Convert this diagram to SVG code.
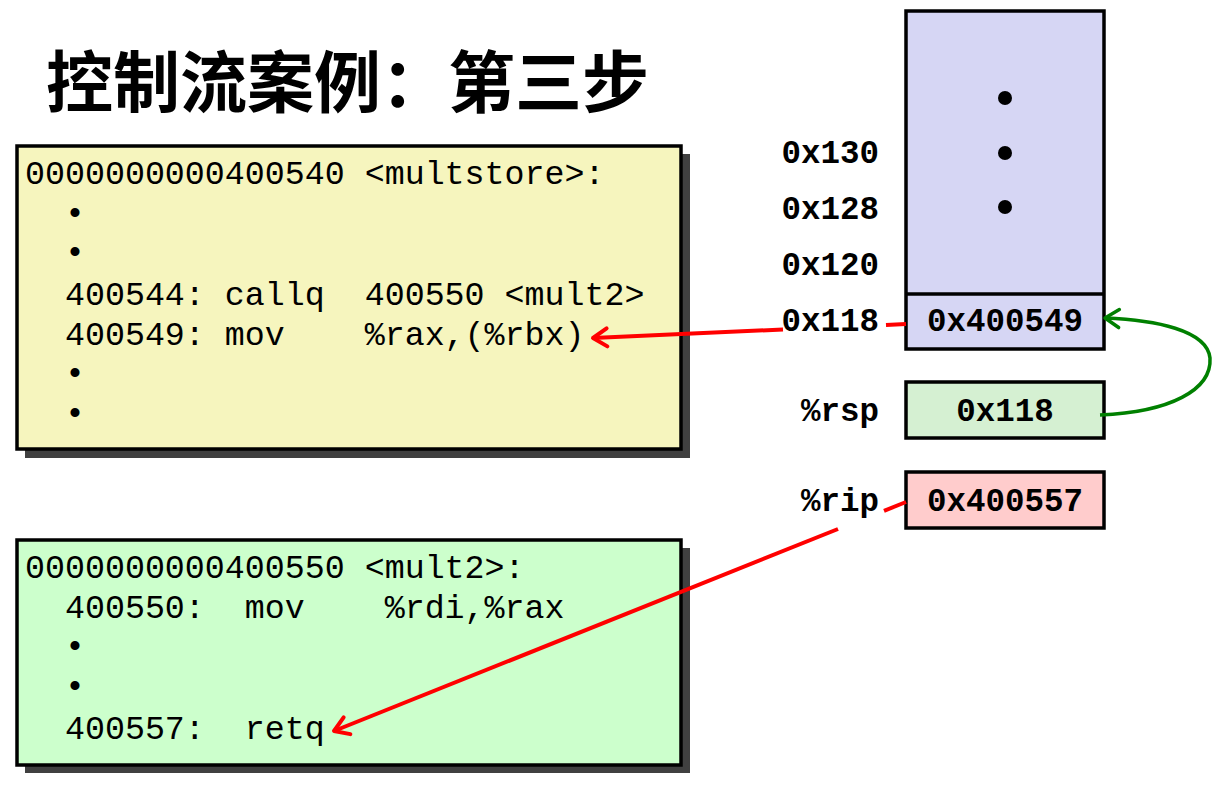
<svg xmlns="http://www.w3.org/2000/svg" width="1228" height="788" viewBox="0 0 1228 788">
<style>
.code{font-family:"Liberation Mono","Courier New",monospace;font-size:33.3px;fill:#000;white-space:pre}
.lbl{font-family:"Liberation Mono","Courier New",monospace;font-size:32.5px;font-weight:bold;fill:#000;white-space:pre}
.box{stroke:#000;stroke-width:3.5}
.red{stroke:#ff0000;stroke-width:4;fill:none}
.grn{stroke:#008000;stroke-width:3.5;fill:none}
</style>
<defs>
<marker id="ar" markerUnits="userSpaceOnUse" markerWidth="30" markerHeight="24" refX="27" refY="12" orient="auto" viewBox="0 0 30 24">
<path d="M13,3 L27,12 L13,21" fill="none" stroke="#ff0000" stroke-width="4" stroke-linecap="round" stroke-linejoin="round"/>
</marker>
<marker id="ag" markerUnits="userSpaceOnUse" markerWidth="30" markerHeight="24" refX="27" refY="12" orient="auto" viewBox="0 0 30 24">
<path d="M13,3 L27,12 L13,21" fill="none" stroke="#008000" stroke-width="3.5" stroke-linecap="round" stroke-linejoin="round"/>
</marker>
</defs>
<rect width="1228" height="788" fill="#fff"/>
<g id="title">
<text x="46" y="107" font-family="'Noto Sans CJK SC',sans-serif" font-weight="700" font-size="67">控制流案例：第三步</text>
</g>
<g id="multstore">
<rect x="25" y="154" width="665" height="304" fill="#404040"/>
<rect x="17" y="146" width="664" height="303" fill="#f6f5be" class="box" stroke-width="2.5"/>
<text class="code" x="25" y="184">0000000000400540 &lt;multstore&gt;:</text>
<text class="code" x="25" y="224">  •</text>
<text class="code" x="25" y="263">  •</text>
<text class="code" x="25" y="305">  400544: callq  400550 &lt;mult2&gt;</text>
<text class="code" x="25" y="345">  400549: mov    %rax,(%rbx)</text>
<text class="code" x="25" y="384">  •</text>
<text class="code" x="25" y="424">  •</text>
</g>
<g id="mult2">
<rect x="25" y="548" width="665" height="225" fill="#404040"/>
<rect x="17" y="540" width="664" height="225" fill="#ccffcc" class="box" stroke-width="2.5"/>
<text class="code" x="25" y="578">0000000000400550 &lt;mult2&gt;:</text>
<text class="code" x="25" y="618">  400550:  mov    %rdi,%rax</text>
<text class="code" x="25" y="657">  •</text>
<text class="code" x="25" y="697">  •</text>
<text class="code" x="25" y="739">  400557:  retq</text>
</g>
<g id="stack">
<rect x="906" y="11" width="198" height="338" fill="#d6d6f4" class="box"/>
<line x1="906" y1="294" x2="1104" y2="294" class="box"/>
<circle cx="1005" cy="98" r="7"/>
<circle cx="1005" cy="153" r="7"/>
<circle cx="1005" cy="207" r="7"/>
<text class="lbl" x="1005" y="331" text-anchor="middle">0x400549</text>
</g>
<g id="addr-labels">
<text class="lbl" x="879" y="163" text-anchor="end">0x130</text>
<text class="lbl" x="879" y="219" text-anchor="end">0x128</text>
<text class="lbl" x="879" y="275" text-anchor="end">0x120</text>
<text class="lbl" x="879" y="331" text-anchor="end">0x118</text>
</g>
<g id="rsp">
<rect x="906" y="382" width="198" height="56" fill="#d5f0d2" class="box"/>
<text class="lbl" x="1005" y="421" text-anchor="middle">0x118</text>
<text class="lbl" x="879" y="421" text-anchor="end">%rsp</text>
</g>
<g id="rip">
<rect x="906" y="472" width="198" height="56" fill="#ffcccc" class="box"/>
<text class="lbl" x="1005" y="511" text-anchor="middle">0x400557</text>
<text class="lbl" x="879" y="511" text-anchor="end">%rip</text>
</g>
<g id="connectors">
<line x1="886" y1="325" x2="906" y2="324" class="red"/>
<line x1="783" y1="329.5" x2="593" y2="338" class="red" marker-end="url(#ar)"/>
<line x1="884" y1="510.8" x2="906" y2="502" class="red"/>
<line x1="838" y1="529" x2="334" y2="731" class="red" marker-end="url(#ar)"/>
<path d="M1100,415 C1170,412 1212,390 1210,358 C1207,330 1155,320 1105,318" class="grn" marker-end="url(#ag)"/>
</g>
</svg>
